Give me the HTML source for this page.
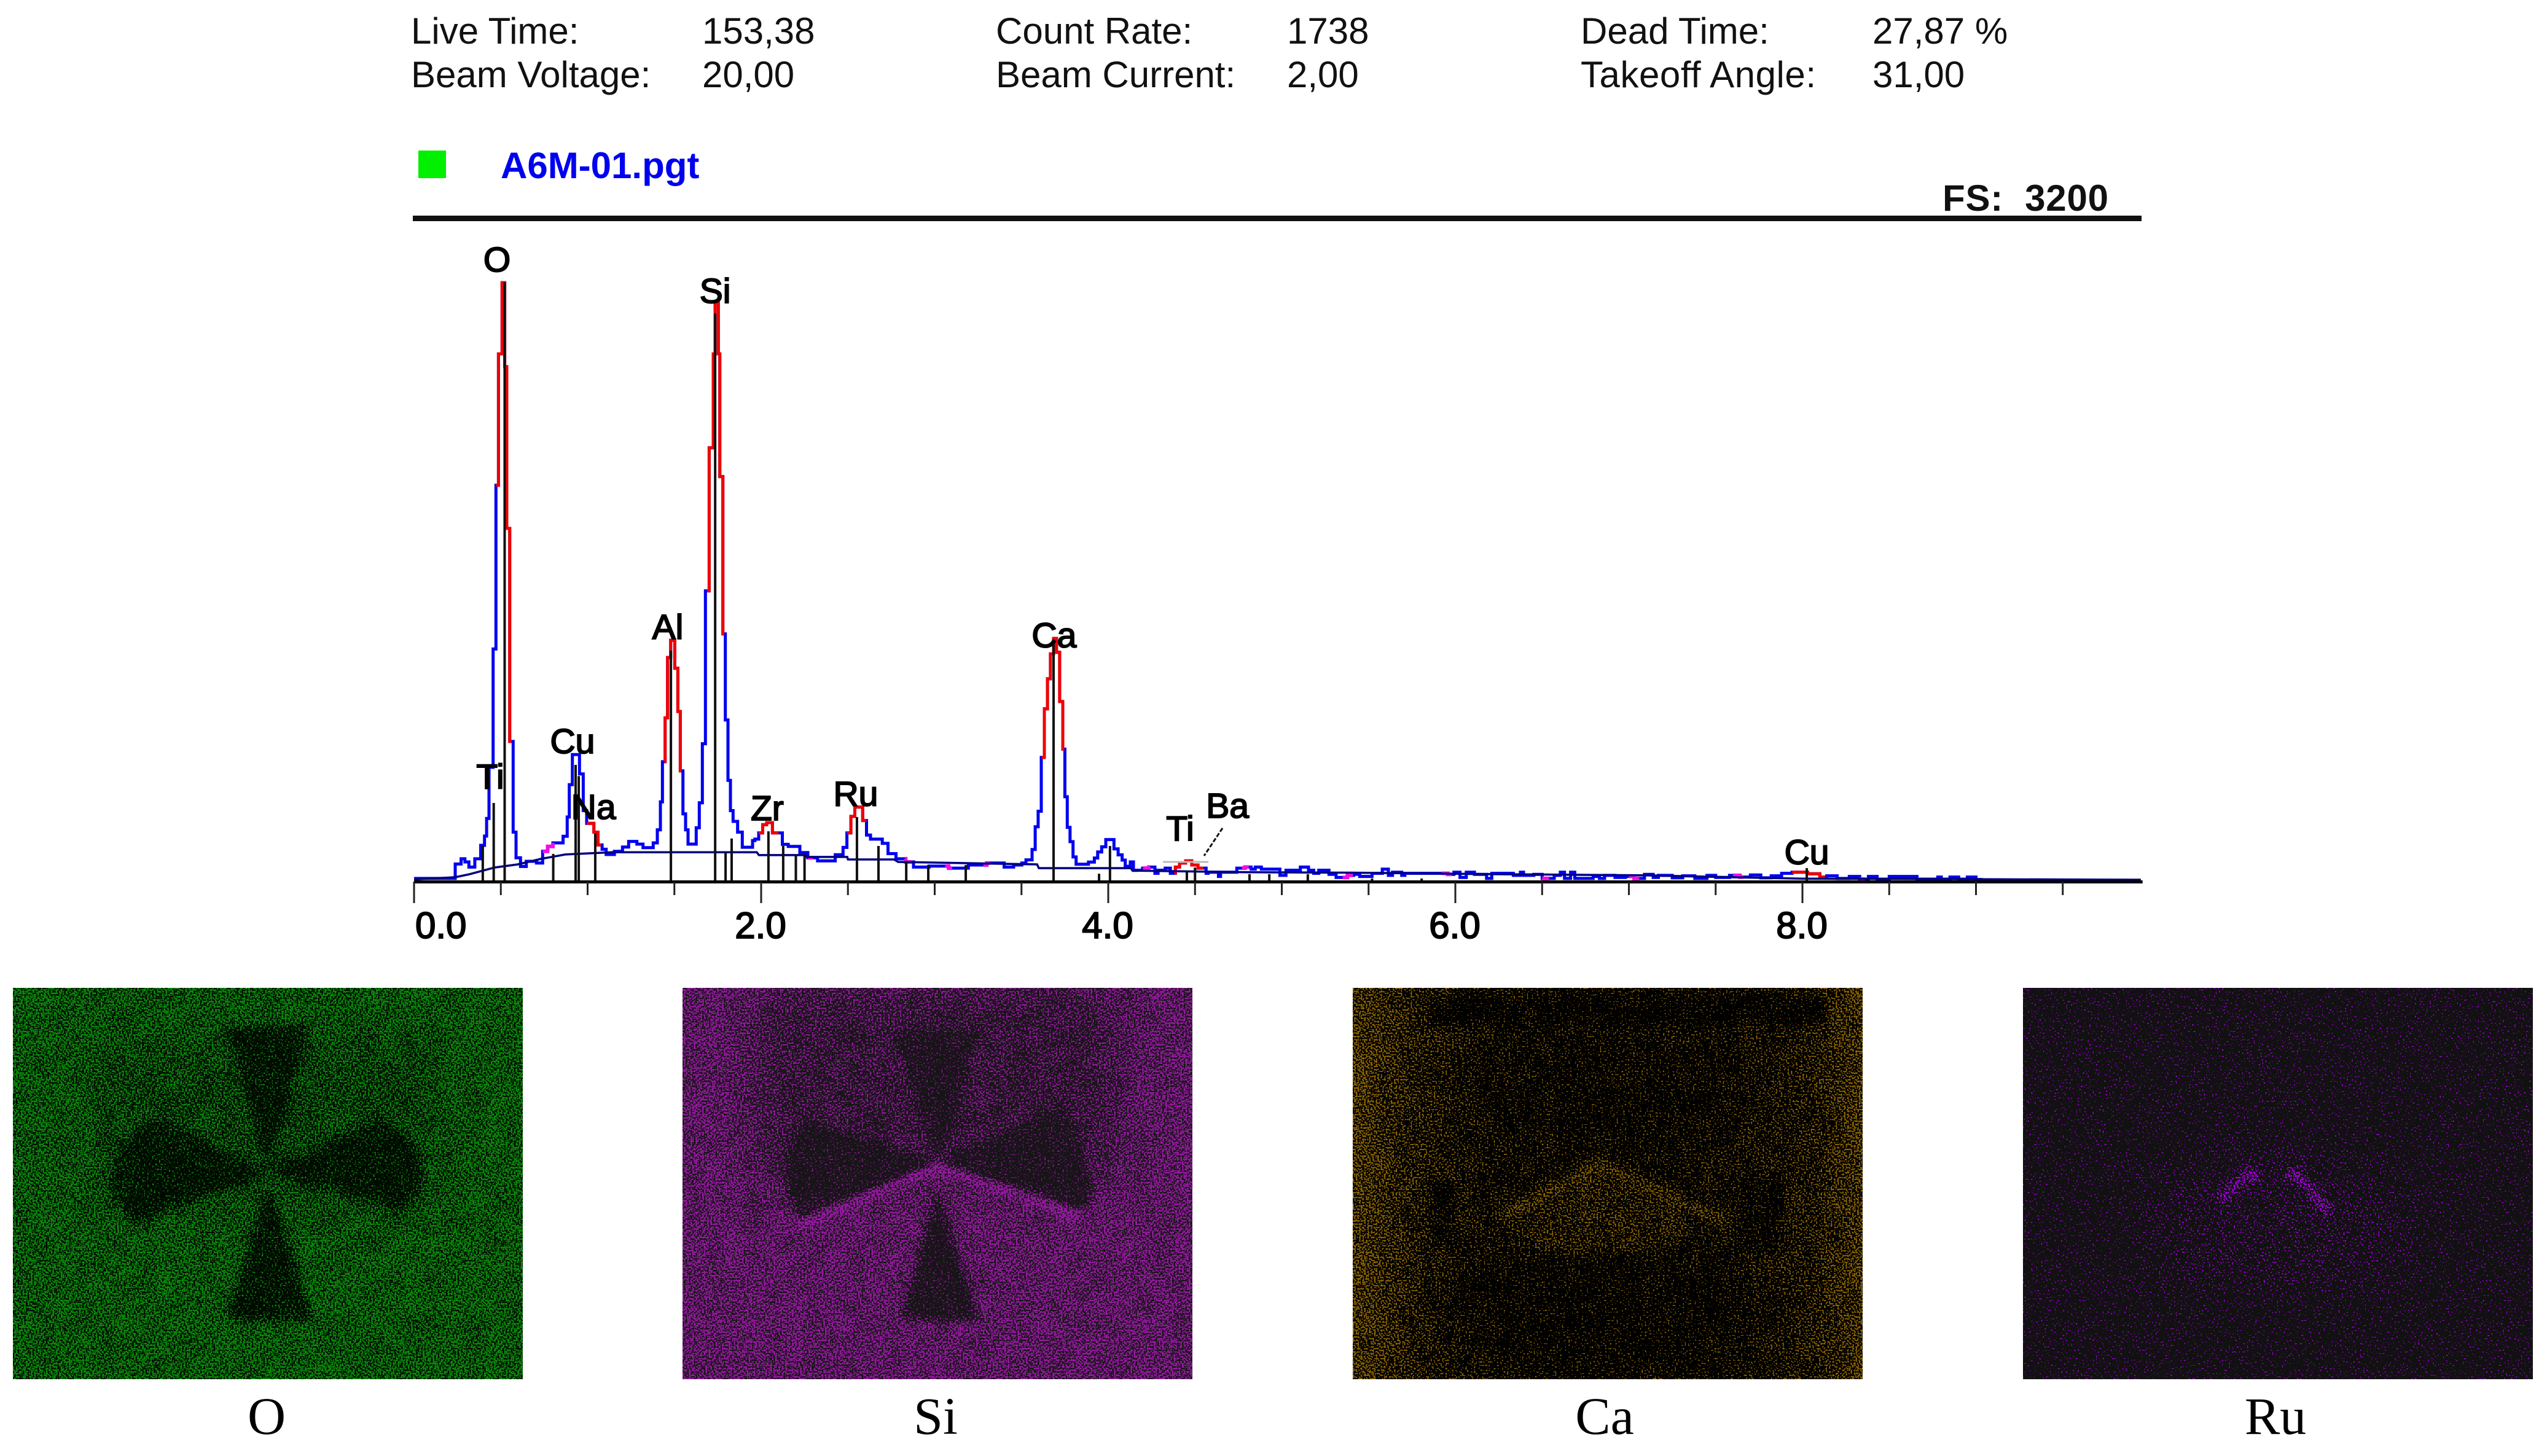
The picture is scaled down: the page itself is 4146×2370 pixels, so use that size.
<!DOCTYPE html>
<html lang="en">
<head>
<meta charset="utf-8">
<title>EDS spectrum A6M-01 with element maps</title>
<style>
html,body{margin:0;padding:0;background:#fff;}
body{width:4146px;height:2370px;overflow:hidden;}
svg{display:block;}
.hdr{font-family:"Liberation Sans",Arial,sans-serif;font-size:60px;fill:#111;}
.pk{font-family:"Liberation Sans",Arial,sans-serif;font-size:57px;fill:#000;stroke:#000;stroke-width:2px;text-anchor:middle;}
.tk{font-family:"Liberation Sans",Arial,sans-serif;font-size:60px;fill:#000;stroke:#000;stroke-width:2px;}
.cap{font-family:"Liberation Serif","Times New Roman",serif;font-size:86px;fill:#000;text-anchor:middle;}
</style>
</head>
<body>
<svg id="page" xmlns="http://www.w3.org/2000/svg" width="4146" height="2370" viewBox="0 0 4146 2370">
<defs>
  <filter id="soft" filterUnits="userSpaceOnUse" x="-100" y="-100" width="1030" height="837" color-interpolation-filters="sRGB"><feGaussianBlur stdDeviation="7"/></filter>
  <filter id="softer" filterUnits="userSpaceOnUse" x="-200" y="-200" width="1230" height="1037" color-interpolation-filters="sRGB"><feGaussianBlur stdDeviation="35"/></filter>
  <filter id="noise-o" filterUnits="userSpaceOnUse" x="0" y="0" width="830" height="637" color-interpolation-filters="sRGB">
    <feTurbulence type="fractalNoise" baseFrequency="0.37" numOctaves="1" seed="3" result="t"/>
    <feColorMatrix in="t" type="matrix" values="1 0 0 0 0 1 0 0 0 0 1 0 0 0 0 0 0 0 0 1" result="n"/>
    <feTurbulence type="fractalNoise" baseFrequency="0.03" numOctaves="2" seed="8" result="t2"/>
    <feColorMatrix in="t2" type="matrix" values="1 0 0 0 0 1 0 0 0 0 1 0 0 0 0 0 0 0 0 1" result="l"/>
    <feComposite in="SourceGraphic" in2="l" operator="arithmetic" k1="0" k2="1" k3="0.2" k4="-0.1" result="s"/>
    <feComposite in="s" in2="n" operator="arithmetic" k1="0" k2="1" k3="2" k4="-1"/>
    <feComponentTransfer><feFuncR type="linear" slope="3.5" intercept="-1.25"/></feComponentTransfer>
    <feColorMatrix type="matrix" values="0.04 0 0 0 0.005 0.5 0 0 0 0.04 0.04 0 0 0 0.005 0 0 0 0 1"/>
  </filter>
  <filter id="noise-si" filterUnits="userSpaceOnUse" x="0" y="0" width="830" height="637" color-interpolation-filters="sRGB">
    <feTurbulence type="fractalNoise" baseFrequency="0.37" numOctaves="1" seed="11" result="t"/>
    <feColorMatrix in="t" type="matrix" values="1 0 0 0 0 1 0 0 0 0 1 0 0 0 0 0 0 0 0 1" result="n"/>
    <feTurbulence type="fractalNoise" baseFrequency="0.03" numOctaves="2" seed="14" result="t2"/>
    <feColorMatrix in="t2" type="matrix" values="1 0 0 0 0 1 0 0 0 0 1 0 0 0 0 0 0 0 0 1" result="l"/>
    <feComposite in="SourceGraphic" in2="l" operator="arithmetic" k1="0" k2="1" k3="0.2" k4="-0.1" result="s"/>
    <feComposite in="s" in2="n" operator="arithmetic" k1="0" k2="1" k3="2" k4="-1"/>
    <feComponentTransfer><feFuncR type="linear" slope="3.5" intercept="-1.25"/></feComponentTransfer>
    <feColorMatrix type="matrix" values="0.5 0 0 0 0.09 0.02 0 0 0 0.08 0.54 0 0 0 0.09 0 0 0 0 1"/>
  </filter>
  <filter id="noise-ca" filterUnits="userSpaceOnUse" x="0" y="0" width="830" height="637" color-interpolation-filters="sRGB">
    <feTurbulence type="fractalNoise" baseFrequency="0.37" numOctaves="1" seed="23" result="t"/>
    <feColorMatrix in="t" type="matrix" values="1 0 0 0 0 1 0 0 0 0 1 0 0 0 0 0 0 0 0 1" result="n"/>
    <feTurbulence type="fractalNoise" baseFrequency="0.03" numOctaves="2" seed="29" result="t2"/>
    <feColorMatrix in="t2" type="matrix" values="1 0 0 0 0 1 0 0 0 0 1 0 0 0 0 0 0 0 0 1" result="l"/>
    <feComposite in="SourceGraphic" in2="l" operator="arithmetic" k1="0" k2="1" k3="0.2" k4="-0.1" result="s"/>
    <feComposite in="s" in2="n" operator="arithmetic" k1="0" k2="1" k3="2" k4="-1"/>
    <feComponentTransfer><feFuncR type="linear" slope="8" intercept="-3.6"/></feComponentTransfer>
    <feColorMatrix type="matrix" values="0.54 0 0 0 0 0.39 0 0 0 0 0 0 0 0 0 0 0 0 0 1"/>
  </filter>
  <filter id="noise-ru" filterUnits="userSpaceOnUse" x="0" y="0" width="830" height="637" color-interpolation-filters="sRGB">
    <feTurbulence type="fractalNoise" baseFrequency="0.37" numOctaves="1" seed="37" result="t"/>
    <feColorMatrix in="t" type="matrix" values="1 0 0 0 0 1 0 0 0 0 1 0 0 0 0 0 0 0 0 1" result="n"/>
    <feComposite in="SourceGraphic" in2="n" operator="arithmetic" k1="0" k2="1" k3="2" k4="-1"/>
    <feComponentTransfer><feFuncR type="linear" slope="12" intercept="-5.5"/></feComponentTransfer>
    <feColorMatrix type="matrix" values="0.58 0 0 0 0.065 -0.065 0 0 0 0.065 0.8 0 0 0 0.065 0 0 0 0 1"/>
  </filter>
  <linearGradient id="edge-grad" x1="0" x2="1" y1="0" y2="0">
    <stop offset="0" stop-color="#808080"/><stop offset="0.12" stop-color="#565656"/><stop offset="0.3" stop-color="#3c3c3c"/><stop offset="0.72" stop-color="#3c3c3c"/><stop offset="0.9" stop-color="#525252"/><stop offset="1" stop-color="#787878"/>
  </linearGradient>
</defs>

<g id="header">
  <text class="hdr" x="669" y="71">Live Time:</text>
  <text class="hdr" x="1143" y="71">153,38</text>
  <text class="hdr" x="669" y="142">Beam Voltage:</text>
  <text class="hdr" x="1143" y="142">20,00</text>
  <text class="hdr" x="1621" y="71">Count Rate:</text>
  <text class="hdr" x="2095" y="71">1738</text>
  <text class="hdr" x="1621" y="142">Beam Current:</text>
  <text class="hdr" x="2095" y="142">2,00</text>
  <text class="hdr" x="2573" y="71">Dead Time:</text>
  <text class="hdr" x="3048" y="71">27,87 %</text>
  <text class="hdr" x="2573" y="142" textLength="383">Takeoff Angle:</text>
  <text class="hdr" x="3048" y="142">31,00</text>
</g>

<rect x="681" y="245" width="45" height="45" fill="#00f000"/>
<text x="815" y="290" font-family="'Liberation Sans',Arial,sans-serif" font-weight="bold" font-size="60" fill="#0000f0">A6M-01.pgt</text>
<text x="3162" y="343" font-family="'Liberation Sans',Arial,sans-serif" font-weight="bold" font-size="60" fill="#111" textLength="270" xml:space="preserve">FS:  3200</text>
<rect x="672" y="351" width="2814" height="9" fill="#111"/>

<g id="chart"></g>

<g transform="translate(21,1608)">
  <g filter="url(#noise-o)">
    <rect width="830" height="637" fill="#848484"/>
    <rect x="130" y="80" width="570" height="290" fill="#6e6e6e" filter="url(#softer)"/>
    <g fill="#383838" filter="url(#soft)">
      <polygon points="349,64 481,64 415,299"/>
      <polygon points="415,299 230,215 175,255 158,318 195,385"/>
      <polygon points="415,299 600,215 655,255 669,318 635,363"/>
      <polygon points="415,320 349,540 490,540"/>
    </g>
  </g>
</g>
<g transform="translate(1111,1608)">
  <g filter="url(#noise-si)">
    <rect width="830" height="637" fill="#808080"/>
    <polygon points="120,0 710,0 710,300 415,290 120,330" fill="#585858" filter="url(#softer)"/>
    <polyline points="190,385 415,288 650,370" fill="none" stroke="#b8b8b8" stroke-width="18" filter="url(#soft)"/>
    <g fill="#2c2c2c" filter="url(#soft)">
      <polygon points="349,70 481,70 415,285"/>
      <polygon points="415,282 190,215 165,305 190,375"/>
      <polygon points="415,282 622,190 669,325 648,360"/>
      <polygon points="415,325 357,540 482,540"/>
    </g>
  </g>
</g>
<g transform="translate(2202,1608)">
  <g filter="url(#noise-ca)">
    <rect width="830" height="637" fill="url(#edge-grad)"/>
    <rect x="130" y="14" width="640" height="45" fill="#282828" filter="url(#soft)"/>
    <ellipse cx="415" cy="180" rx="230" ry="90" fill="#323232" filter="url(#softer)"/>
    <ellipse cx="400" cy="520" rx="260" ry="100" fill="#2c2c2c" filter="url(#softer)"/>
    <polygon points="250,390 400,300 560,385 520,430 300,430" fill="#585858" filter="url(#soft)"/>
    <polyline points="240,375 400,290 615,385" fill="none" stroke="#747474" stroke-width="22" filter="url(#soft)"/>
    <polygon points="125,310 170,330 165,430 130,420" fill="#2c2c2c" filter="url(#soft)"/>
    <polygon points="620,330 710,300 690,430 640,430" fill="#2c2c2c" filter="url(#soft)"/>
  </g>
</g>
<g transform="translate(3293,1608)">
  <g filter="url(#noise-ru)">
    <rect width="830" height="637" fill="#242424"/>
    <polygon points="180,340 415,250 640,340 600,480 250,480" fill="#363636" filter="url(#softer)"/>
    <polyline points="320,345 370,300 385,315" fill="none" stroke="#909090" stroke-width="14" filter="url(#soft)"/>
    <polyline points="425,310 445,300 500,370" fill="none" stroke="#909090" stroke-width="14" filter="url(#soft)"/>
  </g>
</g>

<text class="cap" x="434" y="2334">O</text>
<text class="cap" x="1523" y="2334">Si</text>
<text class="cap" x="2612" y="2334">Ca</text>
<text class="cap" x="3704" y="2334">Ru</text>
</svg>

<script>
// Spectrum channels: start energy (keV) of each plateau and its counts
var spectrumEnergy = [0,.237,.271,.293,.316,.35,.384,.406,.418,.432,.4555,.472,.4863,.5074,.5226,.5345,.5511,.5711,.5877,.6136,.6466,.7056,.741,.77,.7999,.8589,.8825,.8944,.9121,.9534,.9747,.9948,1.0362,1.0597,1.0834,1.107,1.1544,1.2012,1.2366,1.2838,1.3192,1.3782,1.4018,1.4195,1.4313,1.4467,1.4608,1.4786,1.5022,1.5199,1.534,1.5494,1.5647,1.5789,1.626,1.6437,1.6613,1.679,1.7004,1.724,1.7346,1.7534,1.7617,1.7793,1.7935,1.8089,1.823,1.8384,1.8643,1.8915,1.9505,1.964,1.986,2.009,2.032,2.065,2.122,2.156,2.223,2.269,2.325,2.427,2.472,2.494,2.517,2.54,2.585,2.607,2.63,2.698,2.731,2.777,2.833,2.878,2.968,3.08,3.194,3.3,3.4,3.455,3.502,3.526,3.561,3.579,3.596,3.614,3.632,3.65,3.667,3.685,3.702,3.72,3.738,3.75,3.764,3.78,3.797,3.815,3.886,3.92,3.939,3.962,3.986,4.033,4.057,4.08,4.098,4.127,4.145,4.163,4.198,4.234,4.269,4.287,4.328,4.358,4.387,4.411,4.446,4.481,4.517,4.564,4.576,4.635,4.647,4.741,4.788,4.823,4.847,4.882,4.989,5.024,5.107,5.154,5.184,5.213,5.272,5.313,5.378,5.414,5.449,5.52,5.579,5.614,5.638,5.691,5.709,5.956,5.992,6.027,6.063,6.11,6.18,6.21,6.334,6.375,6.393,6.452,6.5,6.57,6.605,6.629,6.664,6.688,6.794,6.83,6.86,6.92,6.98,7.03,7.09,7.14,7.17,7.25,7.31,7.38,7.45,7.5,7.58,7.64,7.7,7.76,7.82,7.88,7.94,8.03,8.1,8.14,8.2,8.27,8.33,8.38,8.43,8.5,8.66,8.76,8.78,8.8,8.85,8.9,8.95,9,9.03,9.08,9.95];
var spectrumCounts = [15,85,110,95,70,110,175,220,305,552,1124,1915,2550,2894,2488,1707,677,239,115,73,98,90,146,170,187,219,312,468,614,520,343,281,239,177,156,131,146,167,194,181,164,187,250,385,579,791,1083,1166,1031,822,535,327,250,181,260,381,666,1405,2096,2550,2800,2550,1957,1197,781,489,343,291,239,166,198,205,235,275,285,235,180,170,140,115,100,130,165,235,315,360,295,225,205,185,135,110,95,70,75,65,80,90,70,80,90,105,155,265,340,600,835,980,1100,1175,1108,870,640,410,262,193,119,84,94,114,143,168,203,158,129,104,74,95,54,55,65,70,40,55,65,40,70,90,100,80,65,40,45,25,45,65,70,60,70,60,30,55,70,55,40,55,35,20,30,35,25,40,60,30,45,30,40,35,45,20,45,35,15,40,30,45,30,35,15,30,45,15,45,15,25,15,30,20,25,15,35,20,30,18,28,15,30,20,30,22,32,18,28,40,45,38,22,28,15,25,12,25,12,25,12,12,22,12,22,12,22,10,8];
// Fitted background (keV, counts)
var backgroundEnergy = [0,.237,.317,.464,.598,.733,.871,1.14,1.975,1.987,2.257,2.262,2.496,2.5,2.766,2.789,3.59,3.6,4.13,4.14,4.8,5.4,6.2,7.1,8,9.95];
var backgroundCounts = [10,21,35,68,83,110,131,142,142,128,128,119,119,107,107,95,83,65,65,53,45,43,36,30,14,9];
// Regions of interest on the trace (keV)
var roiStart = [.473,.995,1.443,1.688,1.986,2.494,3.617,4.384,7.94];
var roiEnd = [.5616,1.077,1.541,1.786,2.1,2.607,3.747,4.55,8.13];
var magentaStart = [.741,2.27,2.83,3.06,3.28,4.2,4.77,5.35,5.92,6.5,7.0,7.6,8.33];
var magentaEnd = [.8,2.3,2.87,3.1,3.32,4.24,4.81,5.41,5.98,6.54,7.06,7.66,8.36];
// Element marker lines (keV, counts at the top of each line)
var markerEnergy = [.396,.459,.522,.802,.931,.949,1.044,1.48,1.735,1.795,1.83,2.042,2.127,2.2,2.25,2.552,2.676,2.836,2.963,3.179,3.685,3.947,4.01,4.453,4.5,4.814,4.928,5.15,5.52,5.806,8.025];
var markerCounts = [172,380,2896,134,564,510,232,1116,2745,140,208,243,172,125,125,312,172,95,80,80,1160,38,172,53,68,36,36,36,15,15,65];
// Peak labels (centre keV, counts at text baseline)
var peakLabels = ["O","Si","Al","Cu","Ti","Na","Zr","Ru","Ca","Ti","Ba","Cu"];
var peakEnergy = [.478,1.735,1.462,.913,.439,1.034,2.035,2.545,3.688,4.414,4.687,8.025];
var peakCounts = [2948,2797,1172,620,450,303,297,367,1133,199,309,85];
// Axis ticks
var tickValues = [0,.5,1,1.5,2,2.5,3,3.5,4,4.5,5,5.5,6,6.5,7,7.5,8,8.5,9,9.5];
var tickLabels = ["0.0","2.0","4.0","6.0","8.0"];
var tickLabelValues = [0,2,4,6,8];
var majorEvery = 2;
var axisMax = 9.96;
var fullScale = 3200;

var NS = "http://www.w3.org/2000/svg";
var chart = document.getElementById("chart");
function xScale(e){ return 674 + e * 282.5; }
function yScale(c){ return 1435 - c * (1078 / fullScale); }

function stepPoints(e0, e1){
  var pts = [];
  for (var i = 0; i < spectrumEnergy.length; i++){
    var s = spectrumEnergy[i];
    var t = i + 1 < spectrumEnergy.length ? spectrumEnergy[i + 1] : s;
    if (t <= e0 || s >= e1) continue;
    var a = Math.max(s, e0), b = Math.min(t, e1);
    pts.push(xScale(a).toFixed(1) + "," + yScale(spectrumCounts[i]).toFixed(1));
    pts.push(xScale(b).toFixed(1) + "," + yScale(spectrumCounts[i]).toFixed(1));
  }
  return pts.join(" ");
}
function makeTrace(e0, e1, color, width){
  var p = document.createElementNS(NS, "polyline");
  p.setAttribute("points", stepPoints(e0, e1));
  p.setAttribute("fill", "none");
  p.setAttribute("stroke", color);
  p.setAttribute("stroke-width", width);
  p.setAttribute("stroke-linejoin", "miter");
  return p;
}

var baseTrace = makeTrace(0, 9.1, "#0000f0", 5);


chart.appendChild(baseTrace);

magentaStart.forEach(function(s, i){
  var m = makeTrace(s, magentaEnd[i], "#f010e0", 6);
  
  
  chart.appendChild(m);
});
roiStart.forEach(function(s, i){
  var r = makeTrace(s, roiEnd[i], "#f00000", 5);
  
  
  chart.appendChild(r);
});

var bg = document.createElementNS(NS, "polyline");
bg.setAttribute("points", backgroundEnergy.map(function(e, i){ return xScale(e).toFixed(1) + "," + yScale(backgroundCounts[i]).toFixed(1); }).join(" "));
bg.setAttribute("fill", "none");
bg.setAttribute("stroke", "#000080");
bg.setAttribute("stroke-width", "3.5");


chart.appendChild(bg);

markerEnergy.forEach(function(e, i){
  var l = document.createElementNS(NS, "line");
  l.setAttribute("x1", xScale(e)); l.setAttribute("x2", xScale(e));
  l.setAttribute("y1", yScale(0)); l.setAttribute("y2", yScale(markerCounts[i]));
  l.setAttribute("stroke", "#111");
  l.setAttribute("stroke-width", "4");
  
  
  chart.appendChild(l);
});

var axis = document.createElementNS(NS, "line");
axis.setAttribute("x1", xScale(0)); axis.setAttribute("x2", xScale(axisMax));
axis.setAttribute("y1", 1435.5); axis.setAttribute("y2", 1435.5);
axis.setAttribute("stroke", "#000");
axis.setAttribute("stroke-width", "5");


chart.appendChild(axis);

tickValues.forEach(function(v){
  var t = document.createElementNS(NS, "line");
  var major = v % majorEvery === 0;
  t.setAttribute("x1", xScale(v)); t.setAttribute("x2", xScale(v));
  t.setAttribute("y1", 1435); t.setAttribute("y2", major ? 1470 : 1457);
  t.setAttribute("stroke", "#222");
  t.setAttribute("stroke-width", "3");
  
  
  chart.appendChild(t);
});

tickLabels.forEach(function(s, i){
  var t = document.createElementNS(NS, "text");
  t.setAttribute("class", "tk");
  var v = tickLabelValues[i];
  t.setAttribute("x", xScale(v) + (v === 0 ? 2 : -1));
  t.setAttribute("y", 1527);
  t.setAttribute("text-anchor", v === 0 ? "start" : "middle");
  t.textContent = s;
  
  
  chart.appendChild(t);
});

peakLabels.forEach(function(s, i){
  var t = document.createElementNS(NS, "text");
  t.setAttribute("class", "pk");
  t.setAttribute("x", xScale(peakEnergy[i]));
  t.setAttribute("y", yScale(peakCounts[i]));
  t.textContent = s;
  
  
  chart.appendChild(t);
});

var leader = document.createElementNS(NS, "line");
leader.setAttribute("x1", 1990); leader.setAttribute("y1", 1348);
leader.setAttribute("x2", 1960); leader.setAttribute("y2", 1393);
leader.setAttribute("stroke", "#111");
leader.setAttribute("stroke-width", "3");
leader.setAttribute("stroke-dasharray", "7 3");


chart.appendChild(leader);

var roiBar = document.createElementNS(NS, "line");
roiBar.setAttribute("x1", 1893); roiBar.setAttribute("y1", 1403);
roiBar.setAttribute("x2", 1967); roiBar.setAttribute("y2", 1403);
roiBar.setAttribute("stroke", "#bbb");
roiBar.setAttribute("stroke-width", "3");


chart.appendChild(roiBar);
</script>
</body>
</html>
